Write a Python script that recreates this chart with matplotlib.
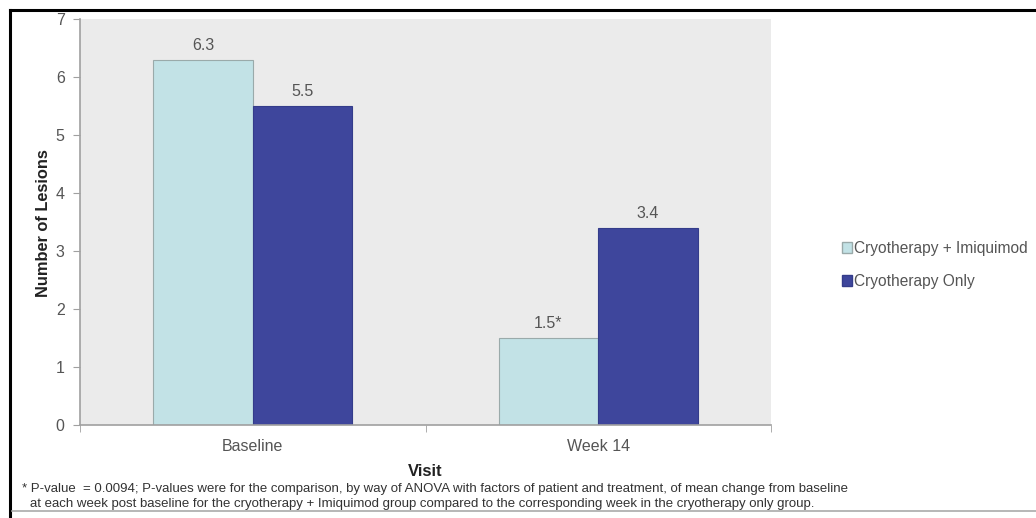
import matplotlib
matplotlib.use("Agg")
import matplotlib.pyplot as plt
from matplotlib.lines import Line2D
from matplotlib.patches import Patch

# Data
visits = ["Baseline", "Week 14"]
series_names = ["Cryotherapy + Imiquimod", "Cryotherapy Only"]
combo_values = [6.3, 1.5]
cryo_values = [5.5, 3.4]
combo_labels = ["6.3", "1.5*"]
cryo_labels = ["5.5", "3.4"]
y_ticks = [0, 1, 2, 3, 4, 5, 6, 7]

light = "#C2E2E6"
dark = "#3E469C"
text_gray = "#555555"
axis_gray = "#A0A0A0"

plt.rcParams["font.family"] = ["Liberation Sans", "DejaVu Sans"]

fig = plt.figure(figsize=(10.36, 5.18), dpi=100)
W, H = 1036, 518
ax = fig.add_axes([80 / W, 1 - 425 / H, 691 / W, 406 / H])
ax.set_facecolor("#EBEBEB")

x = range(len(visits))
bw = 0.288
b1 = ax.bar([i - bw / 2 for i in x], combo_values, bw, color=light,
            edgecolor="#9AAAAA", linewidth=0.8, label=series_names[0])
b2 = ax.bar([i + bw / 2 for i in x], cryo_values, bw, color=dark,
            edgecolor="#343C8A", linewidth=0.8, label=series_names[1])

for bars, labels in ((b1, combo_labels), (b2, cryo_labels)):
    for rect, lab in zip(bars, labels):
        ax.annotate(lab, (rect.get_x() + rect.get_width() / 2, rect.get_height()),
                    xytext=(0, 5), textcoords="offset points", ha="center",
                    va="bottom", fontsize=11.5, color=text_gray)

ax.set_xlim(-0.5, 1.5)
ax.set_ylim(0, 7)
ax.set_yticks(y_ticks)
ax.set_xticks(list(x))
ax.set_xticklabels(visits)
ax.set_xticks([-0.5, 0.5, 1.5], minor=True)
ax.tick_params(axis="x", which="major", length=0, pad=10, labelsize=11.5,
               labelcolor=text_gray)
ax.tick_params(axis="x", which="minor", length=5, color=axis_gray, direction="out")
ax.tick_params(axis="y", length=5, color=axis_gray, labelsize=11.5,
               labelcolor=text_gray, pad=6)
for s in ("top", "right"):
    ax.spines[s].set_visible(False)
for s in ("left", "bottom"):
    ax.spines[s].set_color(axis_gray)
    ax.spines[s].set_linewidth(1.2)

fig.text(44 / W, 1 - 223 / H, "Number of Lesions", rotation=90, ha="center",
         va="center", fontsize=11.8, fontweight="bold", color="#222222")
fig.text(425 / W, 1 - 471 / H, "Visit", ha="center", va="center",
         fontsize=12, fontweight="bold", color="#222222")

foot1 = ("* P-value  = 0.0094; P-values were for the comparison, by way of ANOVA with "
         "factors of patient and treatment, of mean change from baseline")
foot2 = ("at each week post baseline for the cryotherapy + Imiquimod group compared "
         "to the corresponding week in the cryotherapy only group.")
fig.text(22 / W, 1 - 489 / H, foot1, ha="left", va="center", fontsize=9.5,
         color="#333333")
fig.text(30 / W, 1 - 504 / H, foot2, ha="left", va="center", fontsize=9.5,
         color="#333333")

handles = [Patch(facecolor=light, edgecolor="#9AAAAA", label=series_names[0]),
           Patch(facecolor=dark, edgecolor="#343C8A", label=series_names[1])]
fig.legend(handles=handles, loc="center left",
           bbox_to_anchor=(834 / W, 1 - 265 / H), frameon=False,
           fontsize=11.2, labelcolor=text_gray, handlelength=0.65,
           handleheight=0.65, handletextpad=0.15, labelspacing=1.15,
           borderpad=0)

# outer frame
fig.add_artist(Line2D([10 / W, 10 / W], [0, 1 - 10 / H], color="black",
                      linewidth=2.2, transform=fig.transFigure))
fig.add_artist(Line2D([10 / W, 1], [1 - 10 / H, 1 - 10 / H], color="black",
                      linewidth=2.2, transform=fig.transFigure))
fig.add_artist(Line2D([12 / W, 1], [1 - 511 / H, 1 - 511 / H], color="#AAAAAA",
                      linewidth=1.2, transform=fig.transFigure))

fig.savefig("out.png", dpi=100)
